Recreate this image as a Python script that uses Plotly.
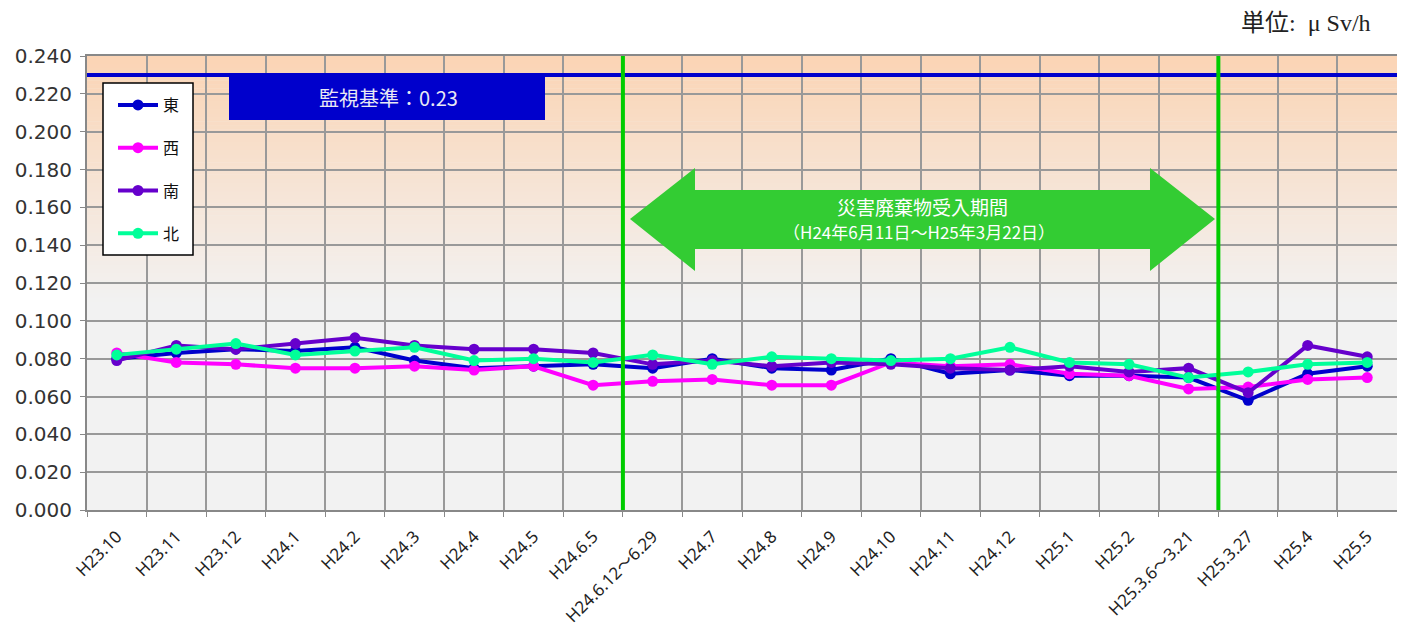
import plotly.graph_objects as go

categories = ["H23.10", "H23.11", "H23.12", "H24.1", "H24.2", "H24.3", "H24.4", "H24.5",
              "H24.6.5", "H24.6.12～6.29", "H24.7", "H24.8", "H24.9", "H24.10", "H24.11",
              "H24.12", "H25.1", "H25.2", "H25.3.6～3.21", "H25.3.27", "H25.4", "H25.5"]

east = [0.080, 0.083, 0.085, 0.084, 0.086, 0.079, 0.075, 0.076, 0.077, 0.075, 0.080, 0.075,
        0.074, 0.080, 0.072, 0.074, 0.071, 0.071, 0.070, 0.058, 0.072, 0.076]
west = [0.083, 0.078, 0.077, 0.075, 0.075, 0.076, 0.074, 0.076, 0.066, 0.068, 0.069, 0.066,
        0.066, 0.078, 0.076, 0.077, 0.072, 0.071, 0.064, 0.065, 0.069, 0.070]
south = [0.079, 0.087, 0.085, 0.088, 0.091, 0.087, 0.085, 0.085, 0.083, 0.077, 0.079, 0.076,
         0.078, 0.077, 0.075, 0.074, 0.076, 0.073, 0.075, 0.062, 0.087, 0.081]
north = [0.082, 0.085, 0.088, 0.082, 0.084, 0.086, 0.079, 0.080, 0.078, 0.082, 0.077, 0.081,
         0.080, 0.079, 0.080, 0.086, 0.078, 0.077, 0.070, 0.073, 0.077, 0.078]

series_names = ["東", "西", "南", "北"]
series_values = [east, west, south, north]
series_colors = ["#0000CC", "#FF00FF", "#6600CC", "#00FF99"]

threshold = 0.23
threshold_label = "監視基準：0.23"
period_title = "災害廃棄物受入期間"
period_sub = "（H24年6月11日～H25年3月22日）"
unit_label = "単位:  μ Sv/h"
y_ticks = [i * 0.02 for i in range(13)]

# page geometry (pixels); the page body has an 8px margin
OFF = 8
W, H = 1405 - OFF, 633 - OFF
L, R, T, B = 87, 1397, 56, 510


def px(x):
    return (x - L) / (R - L)


def py(y):
    return (B - y) / (B - T)


fig = go.Figure()
for name, vals, col in zip(series_names, series_values, series_colors):
    fig.add_trace(go.Scatter(
        x=categories, y=vals, name=name, mode="lines+markers",
        line=dict(color=col, width=4),
        marker=dict(color=col, size=11),
        legendgroup=name,
    ))

shapes = []
# gradient background
top_c = (251, 212, 180)
bot_c = (242, 242, 242)
g_lo, g_hi = 0.11, 0.24
n = 60
for k in range(n):
    y0 = g_lo + (g_hi - g_lo) * k / n
    y1 = g_lo + (g_hi - g_lo) * (k + 1) / n
    t = (k + 0.5) / n
    c = tuple(round(bot_c[j] + (top_c[j] - bot_c[j]) * t) for j in range(3))
    shapes.append(dict(type="rect", xref="paper", yref="y", x0=0, x1=1, y0=y0, y1=y1 + 0.0002,
                       fillcolor="rgb(%d,%d,%d)" % c, line=dict(width=0), layer="below"))

# threshold line
shapes.append(dict(type="line", xref="paper", yref="y", x0=0, x1=1, y0=threshold, y1=threshold,
                   line=dict(color="#0000CC", width=4), layer="above"))
# threshold box
shapes.append(dict(type="rect", xref="paper", yref="paper", x0=px(229), x1=px(545), y0=py(120), y1=py(74),
                   fillcolor="#0000CC", line=dict(width=0), layer="above"))
# period green lines
for xb in [8.5, 18.5]:
    shapes.append(dict(type="line", xref="x", yref="paper", x0=xb, x1=xb, y0=0, y1=1,
                       line=dict(color="#00CC00", width=4), layer="above"))
# double arrow
pts = [(630, 219), (695, 168), (695, 190), (1150, 190), (1150, 168), (1215, 219),
       (1150, 271), (1150, 249), (695, 249), (695, 271)]
path = "M " + " L ".join("%f,%f" % (px(a), py(b)) for a, b in pts) + " Z"
shapes.append(dict(type="path", xref="paper", yref="paper", path=path,
                   fillcolor="#33CC33", line=dict(width=0), layer="above"))
# legend frame
shapes.append(dict(type="rect", xref="paper", yref="paper", x0=px(103), x1=px(193), y0=py(255), y1=py(83),
                   fillcolor="white", line=dict(color="black", width=1.5), layer="above"))

annotations = [
    dict(xref="paper", yref="paper", x=px(388), y=py(97), text=threshold_label,
         xanchor="center", yanchor="middle", showarrow=False,
         font=dict(size=20, color="#E8E8F4", family="Noto Sans CJK JP")),
    dict(xref="paper", yref="paper", x=px(922), y=py(206), text=period_title, showarrow=False,
         xanchor="center", yanchor="middle",
         font=dict(size=19, color="white", family="Noto Sans CJK JP")),
    dict(xref="paper", yref="paper", x=px(919), y=py(231), text=period_sub, showarrow=False,
         xanchor="center", yanchor="middle",
         font=dict(size=17, color="white", family="Noto Sans CJK JP")),
    dict(xref="paper", yref="paper", x=px(1373), y=py(23), xanchor="right", yanchor="middle",
         text=unit_label, showarrow=False,
         font=dict(size=24, color="#222222", family="Liberation Serif, Noto Sans CJK JP")),
]

fig.update_layout(
    width=W, height=H,
    margin=dict(l=L - OFF, r=W + OFF - R, t=T - OFF, b=H + OFF - B, autoexpand=False),
    paper_bgcolor="white", plot_bgcolor="#F2F2F2",
    shapes=shapes, annotations=annotations,
    showlegend=True,
    legend=dict(x=px(113), y=py(88), xanchor="left", yanchor="top",
                bgcolor="rgba(0,0,0,0)", borderwidth=0,
                font=dict(size=16, color="#111111", family="Noto Sans CJK JP"),
                tracegroupgap=19, itemwidth=40),
    font=dict(family="Noto Sans, Noto Sans CJK JP"),
)
fig.update_xaxes(
    type="category", categoryorder="array", categoryarray=categories,
    range=[-0.5, len(categories) - 0.5], automargin=False,
    tickson="boundaries", ticks="outside", ticklen=5, tickcolor="#888888",
    showgrid=True, gridcolor="#999999", gridwidth=1.5,
    showline=True, linecolor="#888888", linewidth=2, mirror=True,
    tickangle=-45, ticklabelstandoff=8,
    tickfont=dict(size=17, color="#222222", family="Noto Sans, Noto Sans CJK JP"),
)
fig.update_yaxes(
    range=[0, 0.24], tickvals=y_ticks, tickformat=".3f", automargin=False,
    ticks="outside", ticklen=5, tickcolor="#888888", ticklabelstandoff=4,
    showgrid=True, gridcolor="#999999", gridwidth=1.5, zeroline=False,
    showline=True, linecolor="#888888", linewidth=2, mirror=True,
    tickfont=dict(size=20, color="#333333", family="DejaVu Sans"),
)

fig.write_html("out.html")
